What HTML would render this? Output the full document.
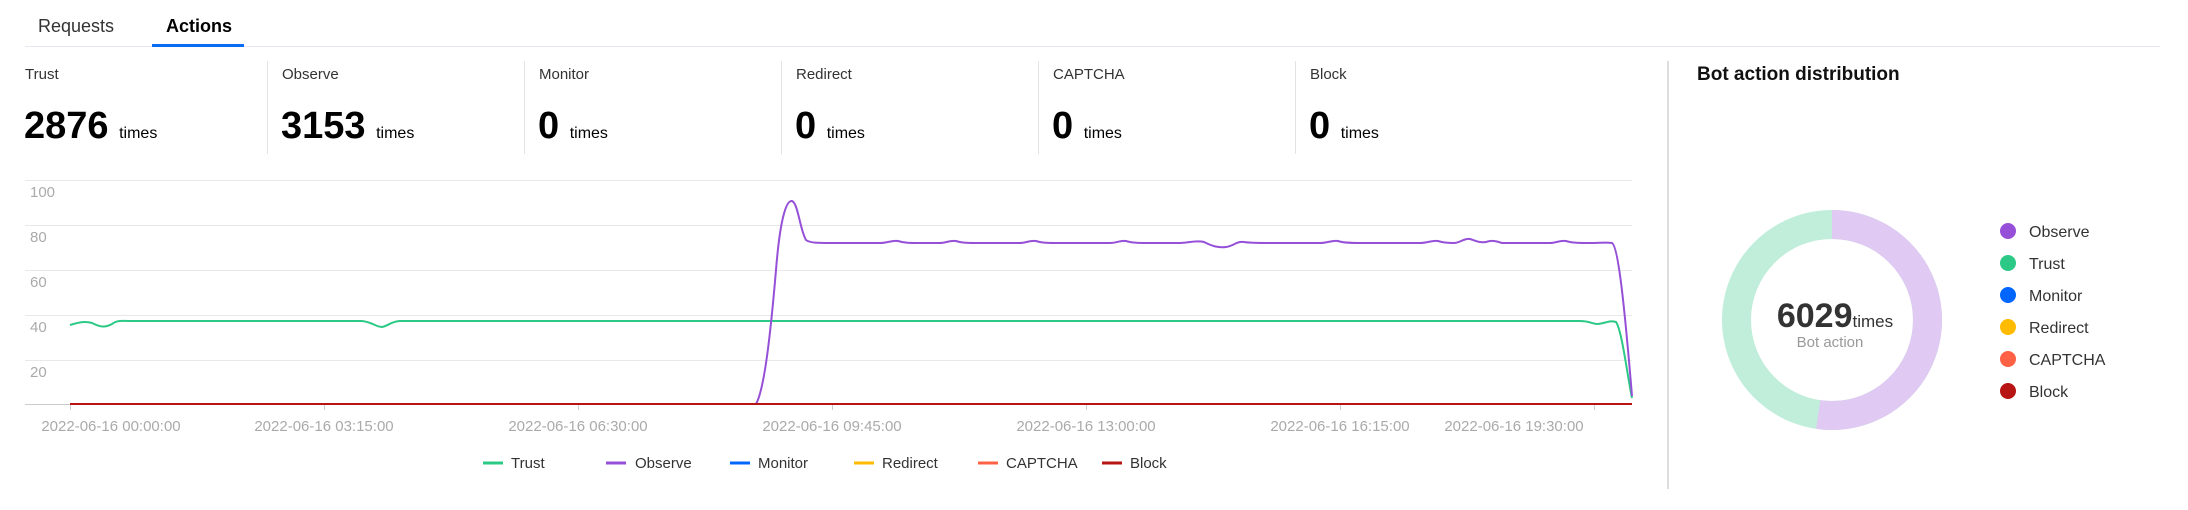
<!DOCTYPE html>
<html><head><meta charset="utf-8"><style>
body{margin:0;width:2188px;height:510px;background:#fff;font-family:"Liberation Sans",sans-serif;position:relative;overflow:hidden}
.a{position:absolute;white-space:nowrap}
.lbl{font-size:15px;color:#333}
.num{font-size:38px;font-weight:bold;color:#000}
.t{font-size:16px;color:#000;font-weight:normal}
.sep{position:absolute;top:61px;height:93px;width:1px;background:#e3e3e3}
</style></head><body>
<div class="a" style="left:38px;top:16px;font-size:18px;color:#333">Requests</div>
<div class="a" style="left:166px;top:16px;font-size:18px;font-weight:bold;color:#000">Actions</div>
<div class="a" style="left:25px;top:46px;width:2135px;height:1px;background:#e6e8ee"></div>
<div class="a" style="left:152px;top:44px;width:92px;height:3px;background:#0a6cf5"></div>

<div class="a lbl" style="left:25px;top:66px">Trust</div>
<div class="a lbl" style="left:282px;top:66px">Observe</div>
<div class="a lbl" style="left:539px;top:66px">Monitor</div>
<div class="a lbl" style="left:796px;top:66px">Redirect</div>
<div class="a lbl" style="left:1053px;top:66px">CAPTCHA</div>
<div class="a lbl" style="left:1310px;top:66px">Block</div>
<div class="a num" style="left:24px;top:105px">2876 <span class="t">times</span></div>
<div class="a num" style="left:281px;top:105px">3153 <span class="t">times</span></div>
<div class="a num" style="left:538px;top:105px">0 <span class="t">times</span></div>
<div class="a num" style="left:795px;top:105px">0 <span class="t">times</span></div>
<div class="a num" style="left:1052px;top:105px">0 <span class="t">times</span></div>
<div class="a num" style="left:1309px;top:105px">0 <span class="t">times</span></div>
<div class="sep" style="left:267px"></div><div class="sep" style="left:524px"></div>
<div class="sep" style="left:781px"></div><div class="sep" style="left:1038px"></div>
<div class="sep" style="left:1295px"></div>

<svg class="a" style="left:0;top:0" width="1660" height="510">
<g stroke="#e8e8e8" stroke-width="1">
<line x1="25" x2="1632" y1="180.5" y2="180.5"/><line x1="25" x2="1632" y1="225.5" y2="225.5"/>
<line x1="25" x2="1632" y1="270.5" y2="270.5"/><line x1="25" x2="1632" y1="315.5" y2="315.5"/>
<line x1="25" x2="1632" y1="360.5" y2="360.5"/></g>
<line x1="25" x2="1632" y1="404.5" y2="404.5" stroke="#ccc"/>
<g stroke="#ccc"><line x1="70.5" x2="70.5" y1="404" y2="410"/><line x1="324.5" x2="324.5" y1="404" y2="410"/><line x1="578.5" x2="578.5" y1="404" y2="410"/><line x1="832.5" x2="832.5" y1="404" y2="410"/><line x1="1086.5" x2="1086.5" y1="404" y2="410"/><line x1="1340.5" x2="1340.5" y1="404" y2="410"/><line x1="1594.5" x2="1594.5" y1="404" y2="410"/></g>
<g font-size="15" fill="#aaa" font-family="Liberation Sans,sans-serif">
<text x="30" y="197">100</text><text x="30" y="242">80</text><text x="30" y="287">60</text><text x="30" y="332">40</text><text x="30" y="377">20</text>
<g text-anchor="middle"><text x="111" y="431">2022-06-16 00:00:00</text><text x="324" y="431">2022-06-16 03:15:00</text><text x="578" y="431">2022-06-16 06:30:00</text><text x="832" y="431">2022-06-16 09:45:00</text><text x="1086" y="431">2022-06-16 13:00:00</text><text x="1340" y="431">2022-06-16 16:15:00</text><text x="1514" y="431">2022-06-16 19:30:00</text></g>
</g>
<path fill="none" stroke="#2bc985" stroke-width="2" d="M70,325 C80,322 85,321 92,323 C100,327 105,328 112,324 C118,320 120,321 130,321 L362,321 C372,322 376,327 382,327 C388,326 392,321 400,321 L1580,321 C1590,321 1592,324 1598,324 C1606,323 1610,320 1616,322 C1622,330 1628,380 1632,398"/>
<path fill="none" stroke="#9650d8" stroke-width="2" d="M756,404 C764,390 770,340 776,270 C780,220 786,200 792,201 C798,203 800,230 806,240 C810,243 818,243 830,243 L880,243 C888,243 892,240 898,241 C904,243 910,243 920,243 L940,243 C946,243 950,240 956,241 C962,243 968,243 980,243 L1020,243 C1026,243 1030,240 1036,241 C1042,243 1048,243 1060,243 L1110,243 C1118,243 1120,240 1126,241 C1132,243 1140,243 1150,243 L1180,243 C1188,243 1196,240 1204,242 C1212,246 1218,248 1226,247 C1234,246 1236,241 1244,242 C1250,243 1260,243 1270,243 L1320,243 C1328,243 1332,240 1338,241 C1344,243 1352,243 1360,243 L1420,243 C1428,243 1432,240 1438,241 C1444,243 1450,243 1454,243 C1460,243 1464,238 1470,239 C1476,241 1480,243 1486,242 C1492,240 1496,241 1502,243 L1550,243 C1556,243 1560,240 1566,241 C1572,243 1580,243 1590,243 C1600,243 1606,242 1612,243 C1618,246 1624,300 1632,396"/>
<line x1="70" x2="1632" y1="404" y2="404" stroke="#b71414" stroke-width="2"/>
<g font-size="15" fill="#333" font-family="Liberation Sans,sans-serif">
<line x1="483" x2="503" y1="463" y2="463" stroke="#2bc985" stroke-width="3"/><text x="511" y="468">Trust</text>
<line x1="606" x2="626" y1="463" y2="463" stroke="#9650d8" stroke-width="3"/><text x="635" y="468">Observe</text>
<line x1="730" x2="750" y1="463" y2="463" stroke="#0066ff" stroke-width="3"/><text x="758" y="468">Monitor</text>
<line x1="854" x2="874" y1="463" y2="463" stroke="#ffbb00" stroke-width="3"/><text x="882" y="468">Redirect</text>
<line x1="978" x2="998" y1="463" y2="463" stroke="#ff6145" stroke-width="3"/><text x="1006" y="468">CAPTCHA</text>
<line x1="1102" x2="1122" y1="463" y2="463" stroke="#b71414" stroke-width="3"/><text x="1130" y="468">Block</text>
</g>
</svg>

<div class="a" style="left:1667px;top:61px;width:2px;height:428px;background:#ddd"></div>
<div class="a" style="left:1697px;top:64px;font-size:19px;font-weight:bold;color:#111">Bot action distribution</div>
<svg class="a" style="left:1700px;top:190px" width="270" height="260">
<circle cx="132" cy="130" r="95.5" fill="none" stroke="#c0eedb" stroke-width="29"/>
<circle cx="132" cy="130" r="95.5" fill="none" stroke="#e0c9f2" stroke-width="29" stroke-dasharray="313.8 600" transform="rotate(-90 132 130)"/>
<text x="135" y="137" text-anchor="middle" font-family="Liberation Sans,sans-serif" fill="#333"><tspan font-size="34" font-weight="bold">6029</tspan><tspan font-size="17">times</tspan></text>
<text x="130" y="157" text-anchor="middle" font-family="Liberation Sans,sans-serif" font-size="15" fill="#999">Bot action</text>
</svg>
<svg class="a" style="left:1990px;top:210px" width="150" height="200" font-family="Liberation Sans,sans-serif" font-size="16" fill="#333">
<circle cx="18" cy="21" r="8" fill="#9650d8"/><text x="39" y="27">Observe</text>
<circle cx="18" cy="53" r="8" fill="#2bc985"/><text x="39" y="59">Trust</text>
<circle cx="18" cy="85" r="8" fill="#0066ff"/><text x="39" y="91">Monitor</text>
<circle cx="18" cy="117" r="8" fill="#ffbb00"/><text x="39" y="123">Redirect</text>
<circle cx="18" cy="149" r="8" fill="#ff6145"/><text x="39" y="155">CAPTCHA</text>
<circle cx="18" cy="181" r="8" fill="#b71414"/><text x="39" y="187">Block</text>
</svg>
</body></html>
